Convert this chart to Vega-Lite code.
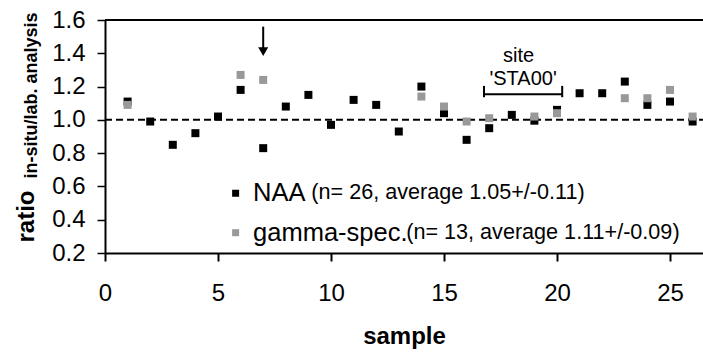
{
  "$schema": "https://vega.github.io/schema/vega-lite/v6.json",
  "autosize": {"type": "none"},
  "padding": {"left": 105, "top": 20, "right": 0, "bottom": 99},
  "width": 598,
  "height": 233,
  "background": "white",
  "config": {
    "font": "Liberation Sans",
    "view": {"stroke": null},
    "axis": {"grid": false, "domainColor": "black", "tickColor": "black", "labelColor": "black", "titleColor": "black", "labelFont": "Liberation Sans", "titleFont": "Liberation Sans"},
    "text": {"font": "Liberation Sans"}
  },
  "encoding": {
    "x": {"field": "sample", "type": "quantitative", "scale": {"domain": [0, 26.46], "nice": false, "zero": false},
      "axis": {"values": [0, 5, 10, 15, 20, 25], "title": "sample", "titleFontSize": 24, "titleFontWeight": "bold", "titleY": 83, "titleBaseline": "middle", "labelFontSize": 24, "tickSize": 8, "tickWidth": 2, "domainWidth": 2, "labelPadding": 20, "labelFlush": false, "labelOverlap": false}},
    "y": {"field": "ratio", "type": "quantitative", "scale": {"domain": [0.2, 1.6], "nice": false, "zero": false},
      "axis": {"values": [0.2, 0.4, 0.6, 0.8, 1.0, 1.2, 1.4, 1.6], "format": ".1f", "title": "ratio", "titleFontSize": 24, "titleFontWeight": "bold", "titleX": -72, "titleY": 196, "titleAngle": -90, "titleBaseline": "alphabetic", "titleAlign": "center", "labelFontSize": 24, "tickSize": 8, "tickWidth": 1.5, "domainWidth": 2, "labelPadding": 12, "labelFlush": false, "labelOverlap": false}}
  },
  "layer": [
    {
      "data": {"values": [{"sample": 0, "sample2": 26.46, "ratio": 1.6}]},
      "mark": {"type": "rule", "color": "black", "strokeWidth": 2},
      "encoding": {"x2": {"field": "sample2"}}
    },
    {
      "data": {"values": [{"sample": 0, "sample2": 26.46, "ratio": 1.0}]},
      "mark": {"type": "rule", "color": "black", "strokeWidth": 2, "strokeDash": [7, 4]},
      "encoding": {"x2": {"field": "sample2"}}
    },
    {
      "data": {"values": [
        {"sample": 1, "series": "NAA", "ratio": 1.11},
        {"sample": 2, "series": "NAA", "ratio": 0.99},
        {"sample": 3, "series": "NAA", "ratio": 0.85},
        {"sample": 4, "series": "NAA", "ratio": 0.92},
        {"sample": 5, "series": "NAA", "ratio": 1.02},
        {"sample": 6, "series": "NAA", "ratio": 1.18},
        {"sample": 7, "series": "NAA", "ratio": 0.83},
        {"sample": 8, "series": "NAA", "ratio": 1.08},
        {"sample": 9, "series": "NAA", "ratio": 1.15},
        {"sample": 10, "series": "NAA", "ratio": 0.97},
        {"sample": 11, "series": "NAA", "ratio": 1.12},
        {"sample": 12, "series": "NAA", "ratio": 1.09},
        {"sample": 13, "series": "NAA", "ratio": 0.93},
        {"sample": 14, "series": "NAA", "ratio": 1.2},
        {"sample": 15, "series": "NAA", "ratio": 1.04},
        {"sample": 16, "series": "NAA", "ratio": 0.88},
        {"sample": 17, "series": "NAA", "ratio": 0.95},
        {"sample": 18, "series": "NAA", "ratio": 1.03},
        {"sample": 19, "series": "NAA", "ratio": 0.995},
        {"sample": 20, "series": "NAA", "ratio": 1.06},
        {"sample": 21, "series": "NAA", "ratio": 1.16},
        {"sample": 22, "series": "NAA", "ratio": 1.16},
        {"sample": 23, "series": "NAA", "ratio": 1.23},
        {"sample": 24, "series": "NAA", "ratio": 1.09},
        {"sample": 25, "series": "NAA", "ratio": 1.11},
        {"sample": 26, "series": "NAA", "ratio": 0.99},
        {"sample": 1, "series": "gamma-spec.", "ratio": 1.09},
        {"sample": 6, "series": "gamma-spec.", "ratio": 1.27},
        {"sample": 7, "series": "gamma-spec.", "ratio": 1.24},
        {"sample": 14, "series": "gamma-spec.", "ratio": 1.14},
        {"sample": 15, "series": "gamma-spec.", "ratio": 1.08},
        {"sample": 16, "series": "gamma-spec.", "ratio": 0.99},
        {"sample": 17, "series": "gamma-spec.", "ratio": 1.01},
        {"sample": 19, "series": "gamma-spec.", "ratio": 1.02},
        {"sample": 20, "series": "gamma-spec.", "ratio": 1.04},
        {"sample": 23, "series": "gamma-spec.", "ratio": 1.13},
        {"sample": 24, "series": "gamma-spec.", "ratio": 1.13},
        {"sample": 25, "series": "gamma-spec.", "ratio": 1.18},
        {"sample": 26, "series": "gamma-spec.", "ratio": 1.02}
      ]},
      "mark": {"type": "point", "shape": "square", "filled": true, "size": 64, "opacity": 1, "strokeWidth": 0},
      "encoding": {
        "color": {"field": "series", "type": "nominal", "scale": {"domain": ["NAA", "gamma-spec."], "range": ["#000000", "#999999"]}, "legend": null}
      }
    },
    {
      "data": {"values": [{"sample": 7, "ratio": 1.56, "ratio2": 1.43}, {"sample": 16.77, "ratio": 1.136, "ratio2": 1.204}, {"sample": 20.23, "ratio": 1.136, "ratio2": 1.204}]},
      "mark": {"type": "rule", "color": "black", "strokeWidth": 2},
      "encoding": {"y2": {"field": "ratio2"}}
    },
    {
      "data": {"values": [{"sample": 16.77, "sample2": 20.23, "ratio": 1.154}]},
      "mark": {"type": "rule", "color": "black", "strokeWidth": 2},
      "encoding": {"x2": {"field": "sample2"}}
    },
    {
      "data": {"values": [{"sample": 7, "ratio": 1.41}]},
      "mark": {"type": "point", "shape": "triangle-down", "filled": true, "size": 100, "color": "black", "opacity": 1, "strokeWidth": 0}
    },
    {
      "data": {"values": [{"sample": 18.3, "ratio": 1.384, "label": "site"}, {"sample": 18.5, "ratio": 1.246, "label": "'STA00'"}]},
      "mark": {"type": "text", "fontSize": 20, "color": "black", "align": "center", "baseline": "middle"},
      "encoding": {"text": {"field": "label"}}
    },
    {
      "data": {"values": [{"sample": -3.03, "ratio": 1.147, "label": "in-situ/lab. analysis"}]},
      "mark": {"type": "text", "fontSize": 18, "fontWeight": "bold", "color": "black", "align": "center", "baseline": "alphabetic", "angle": 270},
      "encoding": {"text": {"field": "label"}}
    },
    {
      "data": {"values": [{"sample": 5.78, "ratio": 0.559, "series": "NAA"}, {"sample": 5.78, "ratio": 0.322, "series": "gamma-spec."}]},
      "mark": {"type": "point", "shape": "square", "filled": true, "size": 49, "opacity": 1, "strokeWidth": 0},
      "encoding": {
        "color": {"field": "series", "type": "nominal", "legend": null}
      }
    },
    {
      "data": {"values": [{"sample": 6.55, "ratio": 0.559, "label": "NAA"}, {"sample": 6.55, "ratio": 0.322, "label": "gamma-spec."}]},
      "mark": {"type": "text", "fontSize": 25.5, "color": "black", "align": "left", "baseline": "middle"},
      "encoding": {"text": {"field": "label"}}
    },
    {
      "data": {"values": [{"sample": 9.13, "ratio": 0.559, "label": "(n= 26, average 1.05+/-0.11)"}, {"sample": 13.33, "ratio": 0.322, "label": "(n= 13, average 1.11+/-0.09)"}]},
      "mark": {"type": "text", "fontSize": 21.6, "color": "black", "align": "left", "baseline": "middle"},
      "encoding": {"text": {"field": "label"}}
    }
  ]
}
